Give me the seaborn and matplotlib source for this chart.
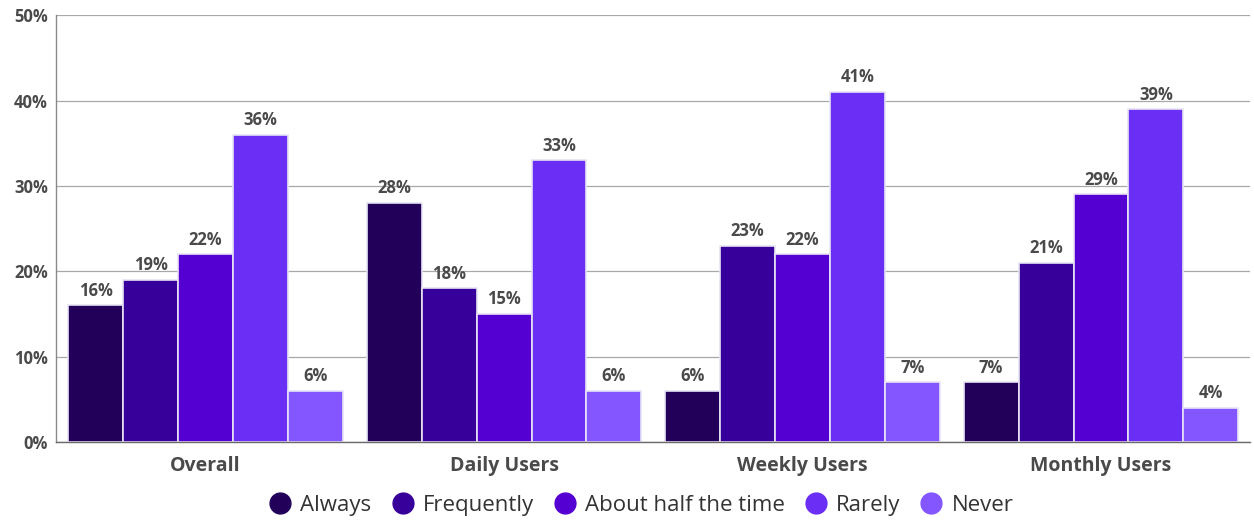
import matplotlib
matplotlib.use("Agg")
import matplotlib.pyplot as plt
from matplotlib.lines import Line2D
import seaborn as sns
import pandas as pd

groups = ["Overall", "Daily Users", "Weekly Users", "Monthly Users"]
responses = ["Always", "Frequently", "About half the time", "Rarely", "Never"]
always = [16, 28, 6, 7]
frequently = [19, 18, 23, 21]
about_half = [22, 15, 22, 29]
rarely = [36, 33, 41, 39]
never = [6, 6, 7, 4]
y_ticks = [0, 10, 20, 30, 40, 50]
palette = ["#22005a", "#38009b", "#5500d3", "#6a2ef4", "#8456ff"]

series = [always, frequently, about_half, rarely, never]
rows = []
for resp, vals in zip(responses, series):
    for g, v in zip(groups, vals):
        rows.append({"group": g, "response": resp, "value": v})
df = pd.DataFrame(rows)

sns.set_theme(style="white")
plt.rcParams["font.family"] = ["Open Sans", "DejaVu Sans"]

fig = plt.figure(figsize=(12.54, 5.23), dpi=100)
ax = fig.add_axes([0.045, 0.155, 0.952, 0.816])

sns.barplot(data=df, x="group", y="value", hue="response", order=groups,
            hue_order=responses, palette=palette, width=0.92, gap=0,
            edgecolor="#e8e4f4", linewidth=1.2, saturation=1, legend=False, ax=ax)

for cont in ax.containers:
    ax.bar_label(cont, labels=[f"{int(round(b.get_height()))}%" for b in cont],
                 padding=4, fontsize=12, fontweight="bold", color="#4a4a4a")

ax.set_ylim(0, 50)
ax.set_xlim(-0.5, 3.5)
ax.set_yticks(y_ticks)
ax.set_yticklabels([f"{t}%" for t in y_ticks], fontsize=12, fontweight="bold", color="#4a4a4a")
ax.tick_params(axis="x", labelsize=14, pad=10, length=0)
ax.tick_params(axis="y", length=0, pad=6)
for lbl in ax.get_xticklabels():
    lbl.set_fontweight("bold")
    lbl.set_color("#4a4a4a")
ax.set_xlabel("")
ax.set_ylabel("")
ax.yaxis.grid(True, color="#a8a8a8", linewidth=0.9)
ax.set_axisbelow(True)
for s in ["top", "right"]:
    ax.spines[s].set_visible(False)
ax.spines["left"].set_color("#8a8a8a")
ax.spines["bottom"].set_color("#6a6a6a")
ax.spines["left"].set_linewidth(1.0)
ax.spines["bottom"].set_linewidth(1.0)

handles = [Line2D([0], [0], marker="o", linestyle="", markersize=15,
                  markerfacecolor=c, markeredgecolor=c) for c in palette]
fig.legend(handles, responses, loc="center", bbox_to_anchor=(0.507, 0.033),
           ncol=5, frameon=False, fontsize=16, handletextpad=-0.1,
           columnspacing=0.4, labelcolor="#333333")

fig.savefig("out.png", dpi=100)
